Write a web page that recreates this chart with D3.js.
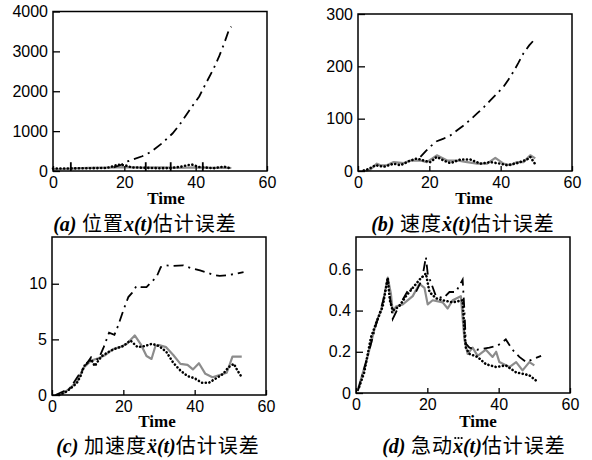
<!DOCTYPE html>
<html>
<head>
<meta charset="utf-8">
<script src="https://cdn.jsdelivr.net/npm/d3@7"></script>
<style>
  body { margin: 0; background: #fff; }
  .tick text { font-family: "Liberation Sans", Arial, sans-serif; font-size: 16px; fill: #000; }
  .tick line { stroke: #000; stroke-width: 1.3; }
  .xlabel { font-family: "Liberation Serif", "Times New Roman", serif; font-weight: bold; font-size: 17px; }
  .caption { font-size: 20px; }
  .latin { font-family: "Liberation Serif", "DejaVu Serif", serif; font-weight: bold; font-style: italic; }
  .cjk { font-family: "Noto Sans CJK SC", sans-serif; letter-spacing: 1px; }
</style>
</head>
<body>
<svg id="chart" width="592" height="460"></svg>
<script>
  'use strict';
  // time ticks shared by all four panels
  var timeTicks = [0, 20, 40, 60];

  // (a) position error
  var posTicks = [0, 1000, 2000, 3000, 4000];
  var posDashDot = [[17, 90], [19, 150], [20.5, 230], [22.5, 290], [25, 370], [27.5, 480], [30.5, 690],
    [33.5, 940], [35.5, 1160], [37.3, 1400], [39, 1620], [41, 1870], [43, 2220], [45, 2560],
    [46.6, 2880], [48, 3200], [49.4, 3560], [50, 3620]];
  var posGray = [[0, 40], [3, 50], [5, 60], [10, 80], [15, 85], [18, 90], [20, 95], [25, 85],
    [30, 90], [35, 80], [40, 90], [45, 80], [48, 85], [50, 75]];
  var posDotted = [[0, 60], [5, 65], [10, 70], [15, 75], [17, 120], [18, 160], [20, 150], [22, 90],
    [26, 80], [30, 70], [33, 75], [36, 110], [38, 150], [39, 160], [41, 100], [45, 70],
    [48, 110], [49, 80], [50, 70]];
  var posSpikeTimes = [5, 26, 33, 42];
  var posSpikeHeight = 220;

  // (b) velocity error
  var velTicks = [0, 100, 200, 300];
  var velDashDot = [[17.5, 27], [19, 38], [20.5, 48], [22.1, 57], [24, 62], [25.9, 68], [27.8, 78],
    [29.6, 87], [31.5, 98], [33.4, 110], [35.3, 122], [37.1, 135], [39, 148], [40.8, 161],
    [42.2, 175], [43.6, 190], [45, 207], [46.4, 225], [48, 240], [49.7, 253]];
  var velGray = [[2, 0], [3.5, 3], [5.3, 14], [6.3, 11], [8.1, 11], [10, 17], [12.8, 15], [14.7, 20],
    [17.5, 20], [19.3, 17], [22.1, 30], [25, 20], [27.8, 20], [30.6, 17], [33.4, 14], [36.2, 14],
    [38.5, 25], [40.8, 14], [42.7, 11], [44.6, 17], [46.4, 17], [48.3, 30], [49.7, 24]];
  var velDotted = [[1.6, 1], [3, 4], [4.9, 11], [7.2, 8], [10, 14], [11.9, 11], [14.7, 20], [16.5, 24],
    [18.4, 20], [20.3, 17], [22.1, 27], [24, 20], [25.9, 15], [28.7, 22], [31.5, 22], [34.3, 14],
    [37.1, 17], [39.9, 14], [41.8, 11], [44.6, 15], [47.4, 22], [48.3, 27], [49.7, 13]];

  // (c) acceleration error
  var accTicks = [0, 5, 10];
  var accDashDot = [[1, 0], [5, 0.6], [9, 2.5], [11, 3.4], [13, 3.2], [14.5, 4.3], [16, 5.6],
    [17.5, 5.4], [18.5, 6.2], [20, 7.6], [21.4, 8.8], [22.5, 9.2], [23.7, 9.8], [25, 9.7],
    [26.5, 9.7], [28, 10.2], [29.3, 10.6], [30.5, 11.5], [32.1, 11.65], [34, 11.6], [36.8, 11.65],
    [39, 11.4], [41.5, 11.2], [43.5, 11.0], [45.3, 10.8], [47, 10.7], [49, 10.75], [51.5, 10.9],
    [53.7, 11.05]];
  var accGray = [[1, 0], [3, 0.1], [5, 0.6], [7, 1.2], [9, 2.5], [11, 3.1], [13, 3.3], [15, 3.6],
    [17, 4.1], [19, 4.3], [21, 4.6], [23.2, 5.35], [25, 4.5], [26.5, 3.5], [27.9, 3.24], [29, 4.4],
    [30, 4.5], [32, 4.3], [34, 3.6], [36, 2.8], [38, 2.7], [39.5, 2.3], [41.2, 2.85], [43, 1.9],
    [45, 1.6], [47, 1.8], [49, 2.0], [50.6, 3.45], [53.2, 3.45]];
  var accDotted = [[2, 0], [4, 0.3], [6, 0.8], [7, 1.1], [8, 1.7], [9, 2.6], [10, 2.9], [11, 3.2],
    [12, 2.6], [13, 3.1], [14, 3.5], [16, 3.9], [18, 4.2], [20, 4.4], [22, 4.9], [24, 4.3],
    [26, 4.4], [28, 4.6], [30, 4.4], [32, 3.9], [34, 2.9], [36, 2.2], [38, 1.7], [40, 1.5],
    [42, 1.1], [44, 1.1], [46, 1.5], [48, 1.9], [49.5, 2.5], [51, 2.8], [52, 2.2], [53.2, 1.6]];

  // (d) jerk error
  var jerkTicks = [0, 0.2, 0.4, 0.6];
  var jerkDashDot = [[0.5, 0.01], [3.3, 0.18], [5.6, 0.33], [7.5, 0.44], [8.9, 0.55], [10.3, 0.36],
    [12, 0.42], [15, 0.51], [16.8, 0.49], [18.5, 0.55], [19.6, 0.66], [20.1, 0.58], [22.4, 0.47],
    [24.5, 0.46], [26.2, 0.49], [28, 0.49], [29.9, 0.55], [30.4, 0.4], [30.8, 0.24], [31.8, 0.22],
    [34, 0.21], [37.4, 0.22], [39.7, 0.23], [42, 0.26], [43.9, 0.21], [45.8, 0.175], [47.7, 0.15],
    [50, 0.167], [51.9, 0.18]];
  var jerkGray = [[0.5, 0.013], [3.3, 0.18], [5.6, 0.34], [7, 0.4], [7.9, 0.47], [8.9, 0.56],
    [9.8, 0.48], [10.3, 0.39], [11.2, 0.42], [13.1, 0.43], [15.9, 0.47], [17.8, 0.53], [19.2, 0.51],
    [20.1, 0.43], [21.5, 0.45], [24.3, 0.44], [25.7, 0.41], [27.1, 0.45], [29.4, 0.47], [30.4, 0.26],
    [31.3, 0.19], [32.7, 0.22], [34.1, 0.18], [36.4, 0.21], [38.3, 0.175], [39.3, 0.2], [40.2, 0.15],
    [43, 0.126], [44.9, 0.15], [46.7, 0.11], [48.6, 0.15], [50, 0.134]];
  var jerkDotted = [[0.9, 0.03], [2.3, 0.1], [4.2, 0.27], [6.1, 0.36], [7.5, 0.42], [8.9, 0.56],
    [9.5, 0.45], [10.3, 0.4], [12.1, 0.42], [14, 0.47], [15.9, 0.51], [17.8, 0.55], [19.6, 0.58],
    [20.6, 0.49], [22.4, 0.46], [24.3, 0.45], [27.1, 0.44], [29.9, 0.45], [30.4, 0.3], [30.8, 0.22],
    [31.8, 0.19], [34.1, 0.175], [36.4, 0.14], [39.3, 0.126], [42, 0.134], [44.9, 0.1], [48.6, 0.086],
    [51, 0.053]];

  // overdots on x: the third derivative has no glyph here, it is drawn as circles
  var captions = [
    {tag: '(a)', pre: ' 位置', sym: 'x', post: '估计误差', overdots: 0},
    {tag: '(b)', pre: ' 速度', sym: 'x\u0307', post: '估计误差', overdots: 0},
    {tag: '(c)', pre: ' 加速度', sym: 'x\u0308', post: '估计误差', overdots: 0},
    {tag: '(d)', pre: ' 急动', sym: 'x', post: '估计误差', overdots: 3}
  ];

  var panels = [
    {box: [53, 11.5, 267, 171], yMax: 4000, yTicks: posTicks, dash: posDashDot, gray: posGray,
      dots: posDotted, spikes: posSpikeTimes, timeX: 166, capX: 145, timeY: 204, capY: 231},
    {box: [358, 14, 572, 171], yMax: 300, yTicks: velTicks, dash: velDashDot, gray: velGray,
      dots: velDotted, timeX: 474, capX: 463, timeY: 204, capY: 231},
    {box: [52, 237, 266, 395], yMax: 14.2, yTicks: accTicks, dash: accDashDot, gray: accGray,
      dots: accDotted, timeX: 157, capX: 158, timeY: 427, capY: 453},
    {box: [356, 237, 570, 393], yMax: 0.757, yTicks: jerkTicks, dash: jerkDashDot, gray: jerkGray,
      dots: jerkDotted, timeX: 478, capX: 474, timeY: 427, capY: 453}
  ];

  var svg = d3.select('#chart');

  panels.forEach(function(p, i) {
    var x = d3.scaleLinear().domain([0, 60]).range([p.box[0], p.box[2]]);
    var y = d3.scaleLinear().domain([0, p.yMax]).range([p.box[3], p.box[1]]);
    var g = svg.append('g');

    var line = d3.line()
      .x(function(d) { return x(d[0]); })
      .y(function(d) { return y(d[1]); });

    g.append('path')
      .attr('d', line(p.gray))
      .attr('fill', 'none')
      .attr('stroke', '#8c8c8c')
      .attr('stroke-width', 2.2)
      .attr('stroke-linejoin', 'round');

    g.append('path')
      .attr('d', line(p.dots))
      .attr('fill', 'none')
      .attr('stroke', '#000')
      .attr('stroke-width', 2.6)
      .attr('stroke-linecap', 'round')
      .attr('stroke-dasharray', '0.1,3.6');

    g.append('path')
      .attr('d', line(p.dash))
      .attr('fill', 'none')
      .attr('stroke', '#000')
      .attr('stroke-width', 1.8)
      .attr('stroke-dasharray', '10,5,2,5');

    if (p.spikes) {
      g.selectAll('.spike')
        .data(p.spikes)
        .enter().append('line')
        .attr('class', 'spike')
        .attr('x1', function(d) { return x(d); })
        .attr('x2', function(d) { return x(d); })
        .attr('y1', y(0))
        .attr('y2', y(posSpikeHeight))
        .attr('stroke', '#000')
        .attr('stroke-width', 1.8);
    }

    //axes with inward ticks, labels outside
    g.append('g')
      .attr('transform', 'translate(0,' + p.box[3] + ')')
      .call(d3.axisBottom(x).tickValues(timeTicks).tickSize(-5).tickPadding(6).tickFormat(d3.format('d')))
      .call(function(a) { a.select('.domain').remove(); });

    g.append('g')
      .attr('transform', 'translate(' + p.box[0] + ',0)')
      .call(d3.axisLeft(y).tickValues(p.yTicks).tickSize(-7).tickPadding(5).tickFormat(function(d) { return String(d); }))
      .call(function(a) { a.select('.domain').remove(); });

    g.append('rect')
      .attr('x', p.box[0])
      .attr('y', p.box[1])
      .attr('width', p.box[2] - p.box[0])
      .attr('height', p.box[3] - p.box[1])
      .attr('fill', 'none')
      .attr('stroke', '#000')
      .attr('stroke-width', 1.5);

    g.append('text')
      .attr('class', 'xlabel')
      .attr('x', p.timeX)
      .attr('y', p.timeY)
      .attr('text-anchor', 'middle')
      .text('Time');

    var c = captions[i];
    var cap = g.append('text')
      .attr('class', 'caption')
      .attr('x', p.capX)
      .attr('y', p.capY)
      .attr('text-anchor', 'middle');
    cap.append('tspan').attr('class', 'latin').text(c.tag);
    cap.append('tspan').attr('class', 'cjk').text(c.pre);
    var sym = cap.append('tspan').attr('class', 'latin').text(c.sym);
    cap.append('tspan').attr('class', 'latin').text('(t)');
    cap.append('tspan').attr('class', 'cjk').text(c.post);

    if (c.overdots) {
      var bb = sym.node().getBBox();
      var cx = bb.x + bb.width / 2 + 1;
      g.selectAll('.overdot')
        .data(d3.range(c.overdots))
        .enter().append('circle')
        .attr('class', 'overdot')
        .attr('cx', function(d) { return cx + (d - 1) * 3.2; })
        .attr('cy', p.capY - 15)
        .attr('r', 1.1)
        .attr('fill', '#000');
    }
  });
</script>
</body>
</html>
